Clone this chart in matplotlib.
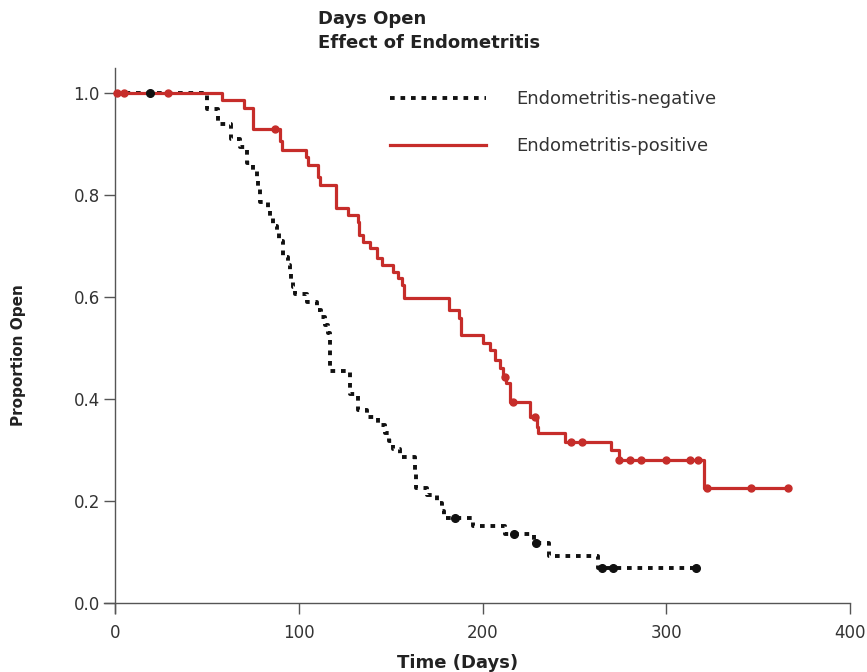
import matplotlib.pyplot as plt
import numpy as np

# Kaplan-Meier style curves (day, proportion open after the step)
neg_days = [0, 50, 56, 63, 68, 72, 75, 77, 78, 79, 83, 84.5, 86, 88, 89, 91.5, 94, 95, 96, 97,
            98, 104.5, 110, 112, 114, 116, 117, 128, 132, 137, 143, 147, 149, 151, 155, 163,
            164, 170, 175, 178, 179, 195, 212, 228, 236, 263]
neg_surv = [1.0, 0.969, 0.94, 0.91, 0.894, 0.863, 0.847, 0.83, 0.816, 0.786, 0.77, 0.755, 0.74,
            0.725, 0.71, 0.678, 0.663, 0.649, 0.633, 0.62, 0.606, 0.59, 0.575, 0.56, 0.545, 0.53,
            0.455, 0.41, 0.378, 0.365, 0.35, 0.333, 0.318, 0.302, 0.286, 0.257, 0.225, 0.212,
            0.196, 0.18, 0.166, 0.151, 0.135, 0.118, 0.092, 0.069]
neg_end = 317
neg_cens = [19, 185, 217, 229, 265, 271, 316]

pos_days = [0, 58, 70, 75, 90, 91, 104, 105, 110.5, 111.5, 120, 127, 132, 133, 135, 139, 142.5,
            145, 151, 154, 156, 157, 182, 187, 188, 200, 204, 207, 209.5, 211, 213, 215, 226,
            229.6, 230, 245, 270, 274, 320.5]
pos_surv = [1.0, 0.986, 0.971, 0.93, 0.906, 0.888, 0.875, 0.859, 0.835, 0.82, 0.775, 0.761, 0.747,
            0.722, 0.708, 0.696, 0.676, 0.663, 0.65, 0.637, 0.624, 0.598, 0.575, 0.559, 0.525,
            0.51, 0.496, 0.476, 0.46, 0.443, 0.431, 0.394, 0.365, 0.345, 0.333, 0.316, 0.30,
            0.28, 0.226]
pos_end = 366
pos_cens = [1, 5, 29, 87, 212, 216.6, 228.6, 248, 254, 274.5, 280, 286, 300, 313, 317, 322, 346, 366]

x_ticks = [0, 100, 200, 300, 400]
y_ticks = [0.0, 0.2, 0.4, 0.6, 0.8, 1.0]

red = '#c62d2a'


def level_at(days, surv, t):
    idx = np.searchsorted(days, t, side='right') - 1
    return np.asarray(surv)[idx]


fig = plt.figure(figsize=(8.67, 6.72), dpi=100)
ax = fig.add_axes([0.12, 0.0875, 0.8647, 0.812])

# negative group (black dashed)
ax.step(neg_days + [neg_end], neg_surv + [neg_surv[-1]], where='post', color='#111111',
        lw=2.8, linestyle=(0, (1.2, 1.5)), dash_capstyle='butt',
        label='Endometritis-negative', zorder=2)
# positive group (red solid)
ax.step(pos_days + [pos_end], pos_surv + [pos_surv[-1]], where='post', color=red,
        lw=2.3, label='Endometritis-positive', zorder=3)

ax.plot(pos_cens, level_at(pos_days, pos_surv, pos_cens), 'o', color=red, ms=5, zorder=4)
ax.plot(neg_cens, level_at(neg_days, neg_surv, neg_cens), 'o', color='#111111', ms=5.5, zorder=5)

ax.set_xlim(-6, 402)
ax.set_ylim(-0.02, 1.05)

for s in ['top', 'right']:
    ax.spines[s].set_visible(False)
ax.spines['left'].set_position(('data', 0))
ax.spines['bottom'].set_position(('data', 0))
ax.spines['bottom'].set_bounds(-6, 400)
for s in ['left', 'bottom']:
    ax.spines[s].set_color('#555555')
    ax.spines[s].set_linewidth(1.0)

ax.set_xticks(x_ticks)
ax.set_yticks(y_ticks)
ax.set_yticklabels([f"{v:.1f}" for v in y_ticks])
ax.tick_params(axis='both', direction='out', length=8, width=1.0, color='#555555',
               labelsize=12, labelcolor='#333333')
ax.tick_params(axis='x', pad=7)
ax.tick_params(axis='y', pad=3)

ax.set_xlabel('Time (Days)', fontsize=13, fontweight='bold', color='#222222')
ax.xaxis.set_label_coords(0.472, -0.075)
ax.set_ylabel('Proportion Open', fontsize=11, fontweight='bold', color='#222222')
ax.yaxis.set_label_coords(-0.104, 0.473)

fig.text(318 / 867, 1 - 10 / 672, 'Days Open\nEffect of Endometritis', ha='left', va='top',
         fontsize=13, fontweight='bold', color='#222222', linespacing=1.45)

ax.legend(loc='upper left', bbox_to_anchor=(390 / 867, 1 - 90 / 672), bbox_transform=fig.transFigure,
          frameon=False, fontsize=13, handlelength=5.3, handletextpad=1.7, labelspacing=1.6,
          borderpad=0, borderaxespad=0, labelcolor='#333333')

plt.savefig('out.png', facecolor='w', edgecolor='w')
